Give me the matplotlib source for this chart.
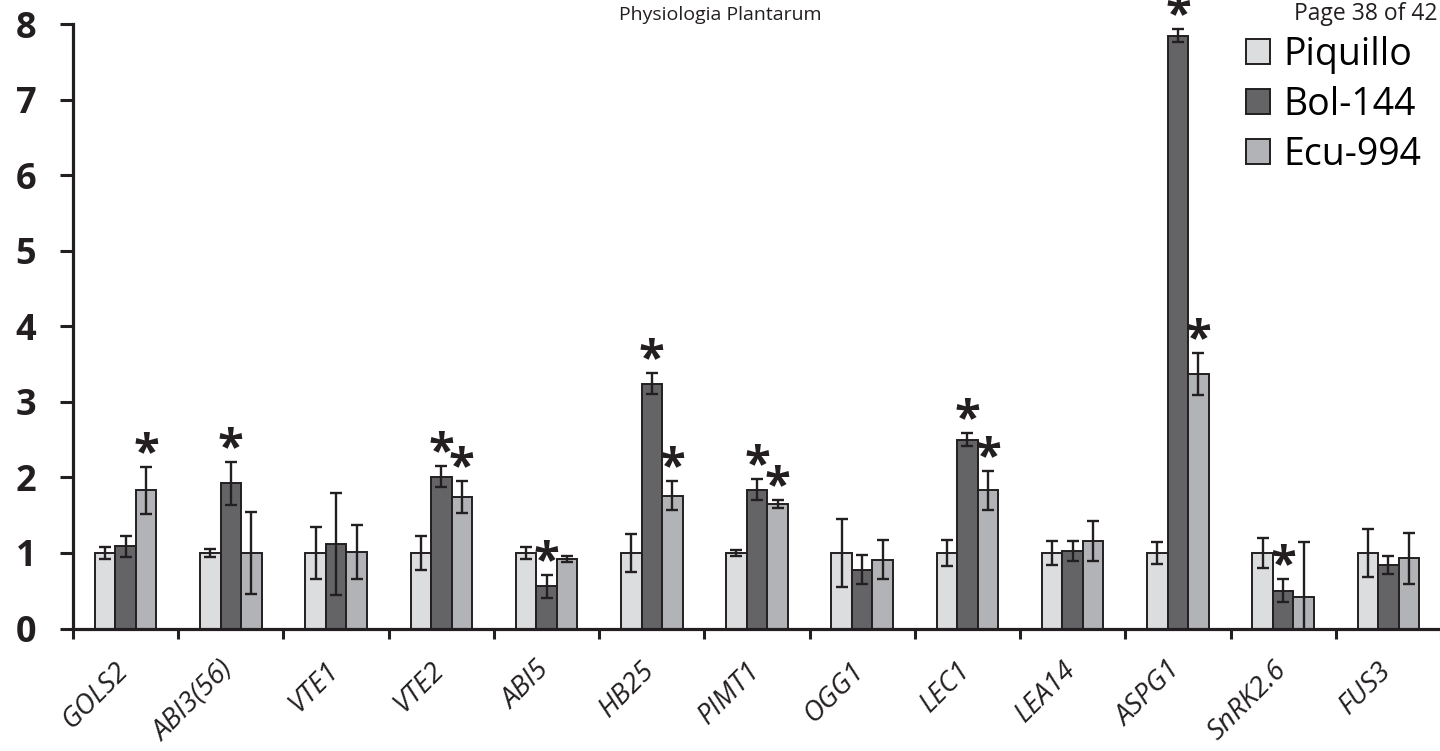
import matplotlib
matplotlib.use("Agg")
import matplotlib.pyplot as plt
from matplotlib.patches import Patch
from matplotlib.transforms import ScaledTranslation
import numpy as np

genes = ["GOLS2", "ABI3(56)", "VTE1", "VTE2", "ABI5", "HB25", "PIMT1",
         "OGG1", "LEC1", "LEA14", "ASPG1", "SnRK2.6", "FUS3"]
series = ["Piquillo", "Bol-144", "Ecu-994"]

piquillo = [1.00, 1.00, 1.00, 1.00, 1.00, 1.00, 1.00, 1.00, 1.00, 1.00, 1.00, 1.00, 1.00]
piquillo_err = [0.08, 0.05, 0.35, 0.23, 0.08, 0.25, 0.04, 0.45, 0.17, 0.155, 0.145, 0.20, 0.32]
bol = [1.09, 1.92, 1.12, 2.01, 0.56, 3.24, 1.84, 0.78, 2.50, 1.03, 7.85, 0.50, 0.84]
bol_err = [0.14, 0.28, 0.67, 0.14, 0.15, 0.14, 0.14, 0.19, 0.09, 0.135, 0.09, 0.155, 0.12]
ecu = [1.83, 1.00, 1.01, 1.74, 0.92, 1.76, 1.65, 0.91, 1.83, 1.16, 3.37, 0.42, 0.93]
ecu_err = [0.31, 0.54, 0.36, 0.21, 0.045, 0.19, 0.055, 0.26, 0.26, 0.265, 0.275, 0.72, 0.335]

# significance marks: (gene index, series index)
stars = [(0, 2), (1, 1), (3, 1), (3, 2), (4, 1), (5, 1), (5, 2), (6, 1), (6, 2),
         (8, 1), (8, 2), (10, 1), (10, 2), (11, 1)]

colors = ["#DCDDDF", "#646466", "#B2B3B6"]
edge = "#231F20"

plt.rcParams['font.family'] = ['Open Sans', 'DejaVu Sans']

fig = plt.figure(figsize=(14.4, 7.51), dpi=100)
ax = fig.add_axes([73/1440, 122.5/751, 1368/1440, 604.2/751])

x = np.arange(len(genes)) + 0.5
w = 0.195
vals = [piquillo, bol, ecu]
errs = [piquillo_err, bol_err, ecu_err]
for k in range(3):
    ax.bar(x + (k - 1) * w, vals[k], width=w, color=colors[k], edgecolor=edge,
           linewidth=1.4, zorder=2)
    ax.errorbar(x + (k - 1) * w, vals[k], yerr=errs[k], fmt='none', ecolor=edge,
                elinewidth=1.7, capsize=4.5, capthick=1.7, zorder=3)

for gi, si in stars:
    top = vals[si][gi] + errs[si][gi]
    ax.annotate("*", xy=(x[gi] + (si - 1) * w, top), xytext=(0, -8),
                textcoords="offset points", ha='center', va='bottom',
                fontsize=34, fontweight='bold', color=edge,
                annotation_clip=False, clip_on=False)

ax.set_xlim(0, 13)
ax.set_ylim(0, 8)
ax.spines['top'].set_visible(False)
ax.spines['right'].set_visible(False)
for s in ['left', 'bottom']:
    ax.spines[s].set_linewidth(2.3)
    ax.spines[s].set_color(edge)

ax.set_yticks(range(0, 9))
ax.tick_params(axis='y', direction='out', length=9.5, width=2.2, colors=edge,
               labelsize=26, pad=17)
for t in ax.get_yticklabels():
    t.set_fontweight('bold')
    t.set_color('#231F20')

ax.set_xticks(np.arange(0, 14))
ax.set_xticklabels([])
ax.tick_params(axis='x', which='major', direction='out', length=7, width=2.2, colors=edge)
ax.set_xticks(x, minor=True)
ax.set_xticklabels(genes, minor=True, rotation=45, ha='right', va='top',
                   rotation_mode='anchor', fontstyle='italic', fontsize=20)
ax.tick_params(axis='x', which='minor', length=0, pad=20, labelcolor=edge)
shift = ScaledTranslation(-11/100, 0, fig.dpi_scale_trans)
for t in ax.get_xticklabels(minor=True):
    t.set_transform(t.get_transform() + shift)

handles = [Patch(facecolor=c, edgecolor=edge, linewidth=1.4) for c in colors]
fig.legend(handles, series, loc='upper left', bbox_to_anchor=(1246/1440, 1 - 36/751),
           frameon=False, fontsize=27, handlelength=0.64, handleheight=0.64,
           handletextpad=0.35, labelspacing=0.32, borderpad=0, borderaxespad=0)

fig.text(720/1440, 1 - 20/751, "Physiologia Plantarum", ha='center', va='baseline',
         fontsize=14, color=edge)
fig.text(1437/1440, 1 - 20/751, "Page 38 of 42", ha='right', va='baseline',
         fontsize=16.5, color=edge)

fig.savefig("out.png", dpi=100, facecolor='white')
